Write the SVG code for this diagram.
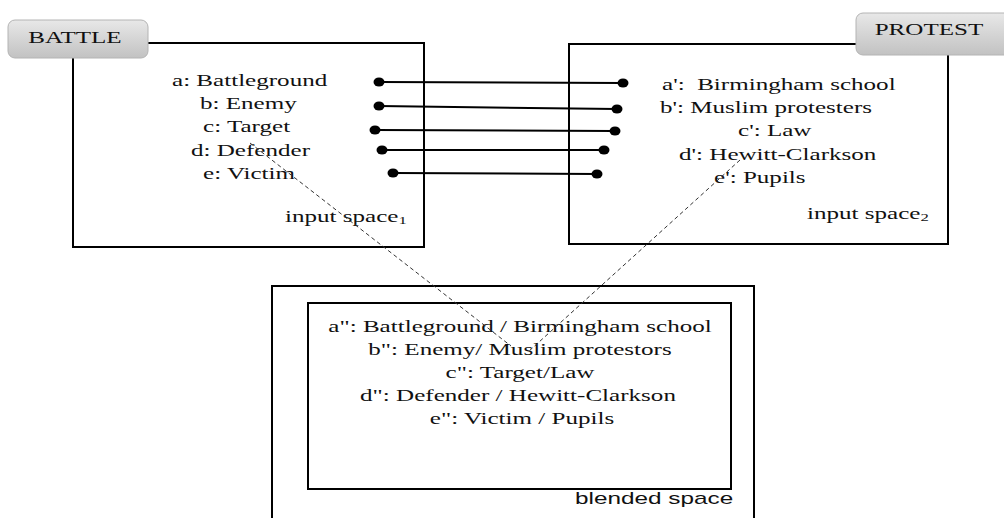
<svg xmlns="http://www.w3.org/2000/svg" width="1004" height="518" viewBox="0 0 1004 518">
  <defs>
    <linearGradient id="lbl" x1="0" y1="0" x2="0" y2="1">
      <stop offset="0" stop-color="#e8e8e8"/>
      <stop offset="1" stop-color="#c2c2c2"/>
    </linearGradient>
  </defs>
  <style>
    .box { fill: #fff; stroke: #000; stroke-width: 2; }
    .label { fill: url(#lbl); stroke: #b4b4b4; stroke-width: 1; }
    .t { font-family: "Liberation Serif", "Times New Roman", serif; font-size: 16.5px; fill: #111; }
    .s { font-family: "Liberation Sans", Arial, sans-serif; font-size: 16px; fill: #111; }
    .m { text-anchor: middle; }
    .link { stroke: #000; stroke-width: 2; fill: none; }
    .dot { fill: #000; }
    .dash { stroke: #333; stroke-width: 1; stroke-dasharray: 4 3; fill: none; }
  </style>

  <g id="input-space-1">
    <rect class="box" x="73" y="43" width="351" height="204"/>
    <text class="t" transform="translate(172,86) scale(1.52,1)">a: Battleground</text>
    <text class="t" transform="translate(200,109) scale(1.52,1)">b: Enemy</text>
    <text class="t" transform="translate(203,132) scale(1.52,1)">c: Target</text>
    <text class="t" transform="translate(191,156) scale(1.52,1)">d: Defender</text>
    <text class="t" transform="translate(203,179) scale(1.52,1)">e: Victim</text>
    <text class="t" transform="translate(285,222) scale(1.52,1)">input space<tspan font-size="11" dy="2">1</tspan></text>
  </g>
  <g id="label-battle">
    <rect class="label" x="8" y="20" width="140" height="38" rx="7"/>
    <text class="t m" transform="translate(75,43) scale(1.52,1)">BATTLE</text>
  </g>

  <g id="input-space-2">
    <rect class="box" x="569" y="44" width="379" height="200"/>
    <text class="t" transform="translate(662,90) scale(1.52,1)">a':&#160; Birmingham school</text>
    <text class="t" transform="translate(660,113) scale(1.52,1)">b': Muslim protesters</text>
    <text class="t" transform="translate(738,136) scale(1.52,1)">c': Law</text>
    <text class="t" transform="translate(679,160) scale(1.52,1)">d': Hewitt-Clarkson</text>
    <text class="t" transform="translate(714,183) scale(1.52,1)">e': Pupils</text>
    <text class="t" transform="translate(807,219) scale(1.52,1)">input space<tspan font-size="11" dy="2">2</tspan></text>
  </g>
  <g id="label-protest">
    <rect class="label" x="856" y="13" width="160" height="42" rx="7"/>
    <text class="t m" transform="translate(929,35) scale(1.52,1)">PROTEST</text>
  </g>

  <g id="blended-space">
    <rect class="box" x="272" y="286" width="482" height="250"/>
    <rect class="box" x="308" y="303" width="423" height="186"/>
    <text class="t m" transform="translate(520,332) scale(1.52,1)">a": Battleground / Birmingham school</text>
    <text class="t m" transform="translate(520,355) scale(1.52,1)">b": Enemy/ Muslim protestors</text>
    <text class="t m" transform="translate(520,378) scale(1.52,1)">c": Target/Law</text>
    <text class="t m" transform="translate(518,401) scale(1.52,1)">d": Defender / Hewitt-Clarkson</text>
    <text class="t m" transform="translate(522,424) scale(1.52,1)">e": Victim / Pupils</text>
    <text class="s" transform="translate(575,504) scale(1.52,1)">blended space</text>
  </g>

  <g id="connectors">
    <line class="link" x1="379" y1="82" x2="623" y2="83"/>
    <line class="link" x1="379" y1="106" x2="617" y2="109"/>
    <line class="link" x1="375" y1="130" x2="615" y2="131"/>
    <line class="link" x1="382" y1="150" x2="604" y2="150"/>
    <line class="link" x1="393" y1="173" x2="597" y2="174"/>
    <ellipse class="dot" cx="379" cy="82" rx="5.5" ry="4.5"/>
    <ellipse class="dot" cx="623" cy="83" rx="5.5" ry="4.5"/>
    <ellipse class="dot" cx="379" cy="106" rx="5.5" ry="4.5"/>
    <ellipse class="dot" cx="617" cy="109" rx="5.5" ry="4.5"/>
    <ellipse class="dot" cx="375" cy="130" rx="5.5" ry="4.5"/>
    <ellipse class="dot" cx="615" cy="131" rx="5.5" ry="4.5"/>
    <ellipse class="dot" cx="382" cy="150" rx="5.5" ry="4.5"/>
    <ellipse class="dot" cx="604" cy="150" rx="5.5" ry="4.5"/>
    <ellipse class="dot" cx="393" cy="173" rx="5.5" ry="4.5"/>
    <ellipse class="dot" cx="597" cy="174" rx="5.5" ry="4.5"/>
    <line class="dash" x1="250" y1="143" x2="511" y2="346"/>
    <line class="dash" x1="740" y1="160" x2="528" y2="352"/>
  </g>
</svg>
